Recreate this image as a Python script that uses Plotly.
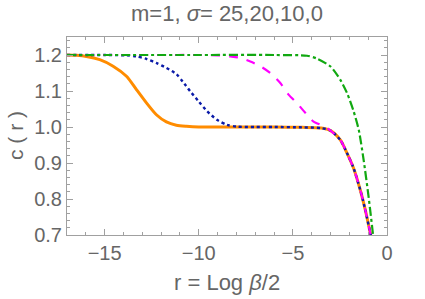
import plotly.graph_objects as go

# sigma = 25 (orange, solid)
r_orange = [-17, -16.5, -15.97, -15.26, -14.55, -13.84, -13.31, -12.78, -12.25, -11.72, -11.19, -10.66, -10, -9, -8, -6, -4.5, -3.5, -3.0, -2.48, -2.12, -1.77, -1.42, -1.15, -0.89, -0.8]
c_orange = [1.2, 1.199, 1.196, 1.187, 1.169, 1.141, 1.104, 1.067, 1.034, 1.014, 1.005, 1.002, 1.0, 1.0, 1.0, 1.0, 0.999, 0.997, 0.99, 0.964, 0.927, 0.885, 0.825, 0.769, 0.706, 0.685]

# sigma = 20 (blue, dotted)
r_blue = [-17, -15, -13.84, -13.31, -12.78, -12.25, -11.72, -11.19, -10.85, -10.45, -10.0, -9.56, -9.03, -8.5, -7.97, -7, -6, -4.5, -3.5, -3.0, -2.48, -2.12, -1.77, -1.42, -1.15, -0.89, -0.8]
c_blue = [1.2, 1.2, 1.199, 1.196, 1.189, 1.178, 1.164, 1.147, 1.126, 1.099, 1.071, 1.044, 1.02, 1.006, 1.001, 1.0, 1.0, 0.999, 0.997, 0.99, 0.964, 0.927, 0.885, 0.825, 0.769, 0.706, 0.685]

# sigma = 10 (magenta, dashed)
r_magenta = [-17, -12, -10, -8.85, -8.32, -7.79, -7.26, -6.73, -6.2, -5.67, -5.23, -4.78, -4.3, -3.9, -3.37, -3.0, -2.48, -2.12, -1.77, -1.42, -1.15, -0.89, -0.8]
c_magenta = [1.2, 1.2, 1.2, 1.199, 1.196, 1.192, 1.182, 1.169, 1.15, 1.122, 1.09, 1.066, 1.037, 1.015, 1.003, 0.99, 0.964, 0.927, 0.885, 0.825, 0.769, 0.706, 0.685]

# sigma = 0 (green, dash-dot)
r_green = [-17, -10, -6, -4.25, -3.72, -3.0, -2.48, -2.12, -1.77, -1.5, -1.24, -0.97, -0.74, -0.68]
c_green = [1.2, 1.2, 1.2, 1.198, 1.19, 1.168, 1.131, 1.094, 1.043, 0.992, 0.908, 0.803, 0.7, 0.675]

x_ticks = [-15, -10, -5, 0]
y_ticks = [0.7, 0.8, 0.9, 1.0, 1.1, 1.2]

fig = go.Figure()
fig.add_trace(go.Scatter(x=r_orange, y=c_orange, mode="lines",
                         line=dict(color="#FF8C00", width=3, shape="spline", smoothing=0.7)))
fig.add_trace(go.Scatter(x=r_blue, y=c_blue, mode="lines",
                         line=dict(color="#0A1AA8", width=2.4, dash="dot", shape="spline", smoothing=0.7)))
fig.add_trace(go.Scatter(x=r_magenta, y=c_magenta, mode="lines",
                         line=dict(color="#FF00FF", width=2.2, dash="dash", shape="spline", smoothing=0.7)))
fig.add_trace(go.Scatter(x=r_green, y=c_green, mode="lines",
                         line=dict(color="#11A811", width=2.2, dash="dashdot", shape="spline", smoothing=0.7)))

tick_font = dict(family="Liberation Sans", size=20, color="#666666")
axis_common = dict(showgrid=False, zeroline=False, showline=True, linecolor="#a0a0a0",
                   linewidth=1, mirror="ticks", ticks="inside", ticklen=6,
                   tickcolor="#a0a0a0", tickfont=tick_font)

fig.update_xaxes(range=[-17, 0], tickvals=x_ticks, **axis_common,
                 minor=dict(dtick=1, ticks="inside", ticklen=3, tickcolor="#a0a0a0"))
fig.update_yaxes(range=[0.7, 1.25], tickvals=y_ticks, tickformat=".1f", **axis_common,
                 minor=dict(dtick=0.02, ticks="inside", ticklen=3, tickcolor="#a0a0a0"))

lab_font = dict(family="Liberation Sans", size=22, color="#666666")
fig.update_layout(
    width=425, height=299,
    margin=dict(l=67, r=38, t=37, b=64),
    paper_bgcolor="white", plot_bgcolor="white",
    showlegend=False,
    font=dict(family="Liberation Sans", color="#666666"),
    annotations=[
        dict(text="m=1, <i>σ</i>= 25,20,10,0", xref="paper", yref="paper", x=0.5, y=1,
             yshift=24, showarrow=False, font=lab_font,
             xanchor="center", yanchor="middle"),
        dict(text="r = Log <i>β</i>/2", xref="paper", yref="paper", x=0.5, y=0,
             yshift=-47, showarrow=False, font=lab_font,
             xanchor="center", yanchor="middle"),
        dict(text="c ( r )", xref="paper", yref="paper", x=0, y=0.5, xshift=-52,
             textangle=-90, showarrow=False, font=dict(family="Liberation Sans", size=21, color="#666666"),
             xanchor="center", yanchor="middle"),
    ],
)

fig.write_html("out.html", config={"displayModeBar": False})

# remove the browser's default page margin so the figure sits at the window's corner
with open("out.html", "r", encoding="utf-8") as f:
    html = f.read()
html = html.replace("<head>", "<head><style>html,body{margin:0;padding:0;overflow:hidden;}</style>", 1)
with open("out.html", "w", encoding="utf-8") as f:
    f.write(html)
